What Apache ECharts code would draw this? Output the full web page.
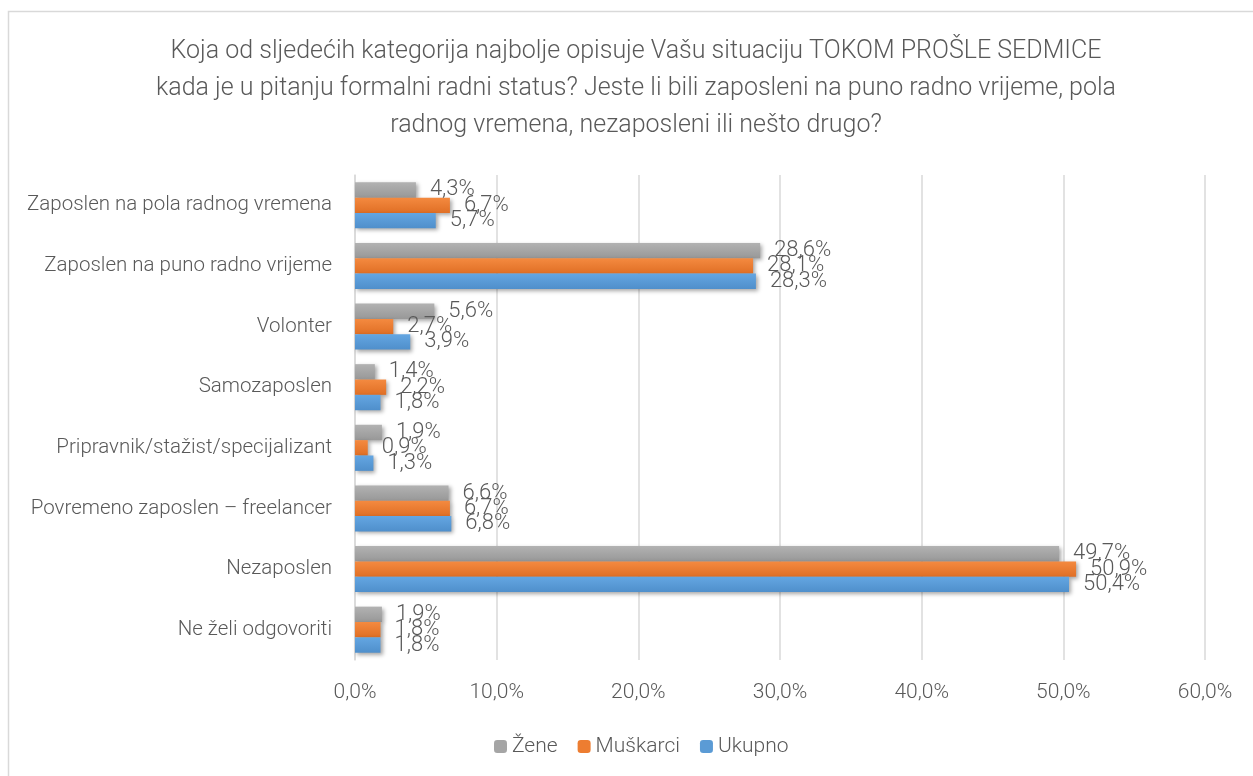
<!DOCTYPE html>
<html><head><meta charset="utf-8">
<script src="https://cdn.jsdelivr.net/npm/echarts@6/dist/echarts.min.js"></script>
<style>html,body{margin:0;padding:0;background:#fff}#c{width:1253px;height:776px}</style>
</head><body><div id="c"></div>
<script>
const categories = ["Zaposlen na pola radnog vremena","Zaposlen na puno radno vrijeme","Volonter","Samozaposlen","Pripravnik/stažist/specijalizant","Povremeno zaposlen – freelancer","Nezaposlen","Ne želi odgovoriti"];
const zene = [4.3, 28.6, 5.6, 1.4, 1.9, 6.6, 49.7, 1.9];
const muskarci = [6.7, 28.1, 2.7, 2.2, 0.9, 6.7, 50.9, 1.8];
const ukupno = [5.7, 28.3, 3.9, 1.8, 1.3, 6.8, 50.4, 1.8];
const xTicks = [0, 10, 20, 30, 40, 50, 60];
const titleText = "Koja od sljedećih kategorija najbolje opisuje Vašu situaciju TOKOM PROŠLE SEDMICE\nkada je u pitanju formalni radni status? Jeste li bili zaposleni na puno radno vrijeme, pola\nradnog vremena, nezaposleni ili nešto drugo?";

const FONT = "Roboto";
const TXT = "#595959";
function grad(a, b) {
  return new echarts.graphic.LinearGradient(0, 0, 0, 1, [{offset: 0, color: a}, {offset: 1, color: b}]);
}
function mk(name, data, c1, c2) {
  return {
    name: name, type: 'bar', data: data, barGap: '0%', barCategoryGap: '24%',
    itemStyle: {color: grad(c1, c2), shadowColor: 'rgba(0,0,0,0.35)', shadowBlur: 4, shadowOffsetX: 2, shadowOffsetY: 2},
    label: {show: true, position: 'right', distance: 14, color: TXT, fontFamily: FONT, fontWeight: 300, fontSize: 22,
      formatter: p => p.value.toFixed(1).replace('.', ',') + '%'}
  };
}
const chart = echarts.init(document.getElementById('c'), null, {renderer: 'canvas'});
chart.setOption({
  animation: false,
  backgroundColor: '#fff',
  graphic: [{type: 'rect', shape: {x: 8.5, y: 11.5, width: 1300, height: 900}, style: {fill: 'none', stroke: '#d9d9d9', lineWidth: 1.5}, silent: true}],
  title: {text: titleText, left: 636, textAlign: 'center', top: 33, padding: 0,
    textStyle: {fontFamily: FONT, fontWeight: 300, fontSize: 25, color: TXT, lineHeight: 37}},
  legend: {bottom: 14, left: 489, padding: 5, itemWidth: 13, itemHeight: 13, itemGap: 20,
    textStyle: {fontFamily: FONT, fontWeight: 300, fontSize: 21, color: TXT},
    data: [{name: 'Žene', itemStyle: {color: '#a5a5a5'}}, {name: 'Muškarci', itemStyle: {color: '#ed7d31'}}, {name: 'Ukupno', itemStyle: {color: '#5b9bd5'}}]},
  grid: {left: 355, right: 48, top: 175, bottom: 116, containLabel: false},
  xAxis: {type: 'value', min: 0, max: 60, interval: 10,
    axisLine: {show: false}, axisTick: {show: false},
    splitLine: {lineStyle: {color: '#d9d9d9', width: 1.5}},
    axisLabel: {margin: 22, color: TXT, fontFamily: FONT, fontWeight: 300, fontSize: 21,
      formatter: v => xTicks.includes(v) ? v.toFixed(1).replace('.', ',') + '%' : ''}},
  yAxis: {type: 'category', data: categories, inverse: true,
    axisLine: {lineStyle: {color: '#d9d9d9', width: 1.5}}, axisTick: {show: false},
    axisLabel: {margin: 23, color: TXT, fontFamily: FONT, fontWeight: 300, fontSize: 20.5}},
  series: [
    mk('Žene', zene, '#b2b2b2', '#989898'),
    mk('Muškarci', muskarci, '#f48a40', '#e06f25'),
    mk('Ukupno', ukupno, '#64a6e2', '#4f8fcb')
  ]
});
</script></body></html>
